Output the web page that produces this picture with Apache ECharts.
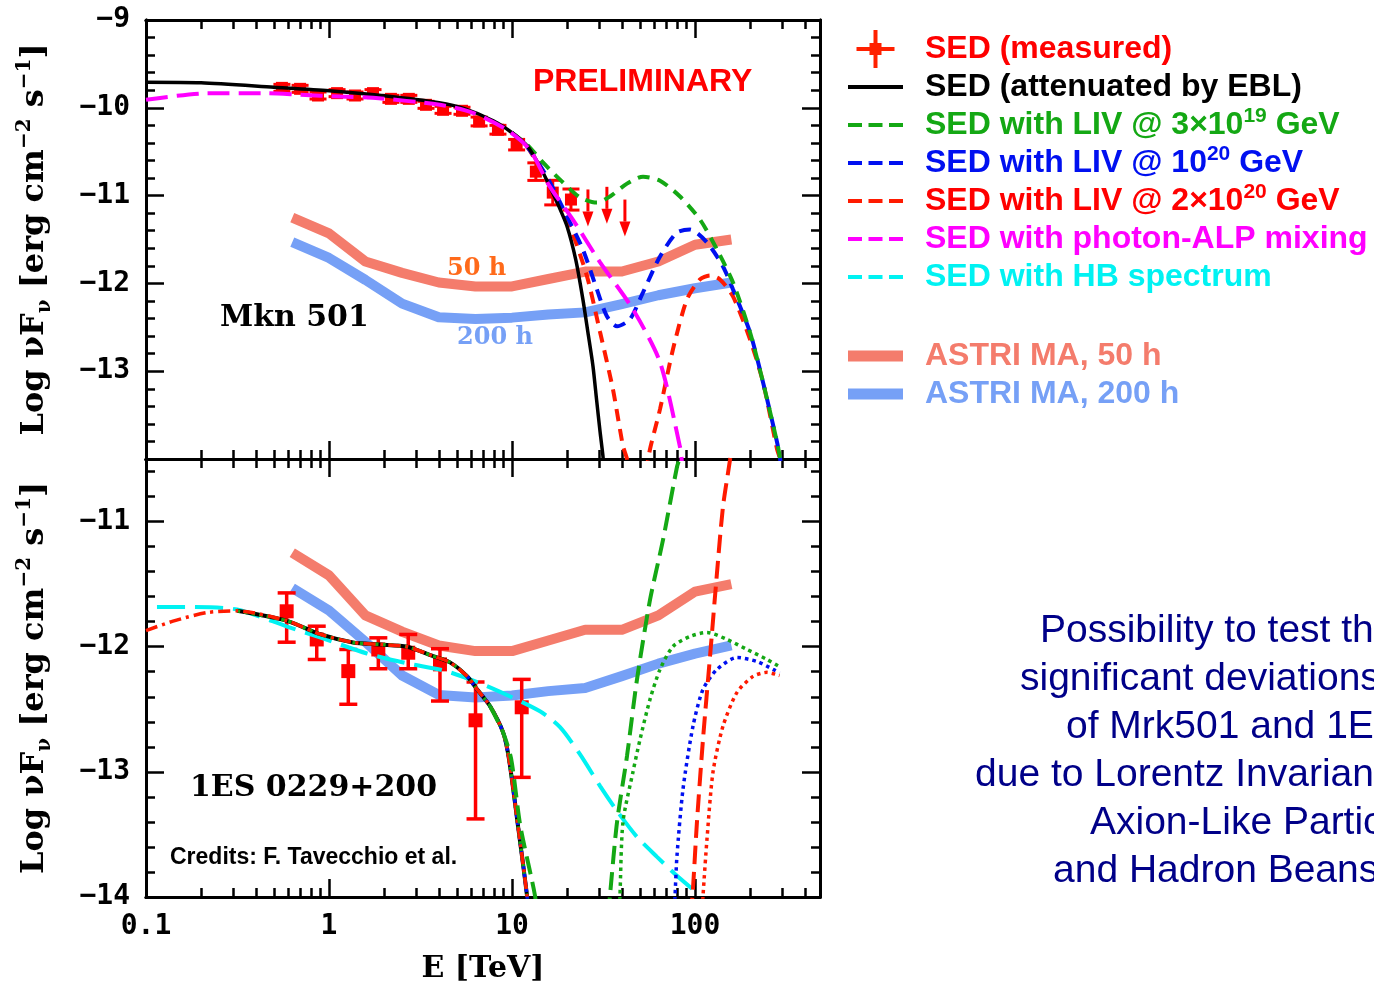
<!DOCTYPE html>
<html>
<head>
<meta charset="utf-8">
<script src="https://cdn.jsdelivr.net/npm/echarts@6/dist/echarts.min.js"></script>
<style>html,body{margin:0;padding:0;background:#fff}#main{width:1374px;height:996px}</style>
</head>
<body>
<div id="main"></div>
<script>
// E in TeV, y = log10(nuFnu) [erg cm-2 s-1]
const xMaxE = 482;

// ---- Mkn 501 (top) ----
const mknPoints = [[0.553,-9.773],[0.695,-9.784],[0.871,-9.86],[1.107,-9.833],[1.387,-9.86],[1.74,-9.833],[2.18,-9.898],[2.73,-9.898],[3.39,-9.966],[4.2,-10.023],[5.33,-10.034],[6.61,-10.156],[8.38,-10.25],[10.6,-10.42],[13.5,-10.727],[16.7,-10.966],[21.0,-11.045]];
const mknErr = [0.04,0.04,0.04,0.04,0.04,0.04,0.04,0.04,0.04,0.04,0.04,0.05,0.05,0.06,0.1,0.14,0.12];
const mknUpper = [[26.0,-10.93],[33.0,-10.90],[41.4,-11.045]];
const mknEbl = [[0.1,-9.71],[0.2,-9.716],[0.5,-9.767],[1,-9.807],[2,-9.864],[4,-9.943],[5.5,-10.01],[7.9,-10.148],[10,-10.284],[12.2,-10.443],[14.3,-10.68],[16.1,-10.898],[18,-11.12],[20,-11.352],[22.3,-11.73],[24.4,-12.182],[26,-12.56],[27.7,-12.943],[29,-13.33],[30.3,-13.693],[31.4,-13.966],[32,-14.2]];
const mknLiv3e19 = [[10,-10.284],[12.1,-10.42],[14.8,-10.625],[18.3,-10.818],[23.5,-11.02],[29.1,-11.08],[34.3,-11.01],[42.5,-10.864],[52,-10.784],[64.4,-10.83],[82.8,-11.01],[106.5,-11.273],[131.9,-11.614],[161.3,-11.989],[199.8,-12.557],[235.3,-13.125],[280.6,-13.807],[291.4,-13.99],[300,-14.2]];
const mknLiv1e20 = [[10,-10.284],[12.1,-10.443],[15.5,-10.784],[20,-11.239],[24.4,-11.614],[29.1,-12.068],[33,-12.375],[37.5,-12.489],[44.1,-12.409],[52,-12.102],[64.4,-11.693],[79.7,-11.42],[93.9,-11.386],[116.3,-11.534],[142.2,-11.807],[161.3,-12.068],[199.8,-12.557],[235.3,-13.125],[280.6,-13.807],[291.4,-13.99],[300,-14.2]];
const mknLiv2e20 = [[10,-10.284],[12.1,-10.443],[16.1,-10.898],[20.7,-11.352],[25.7,-11.92],[30.3,-12.557],[35.6,-13.205],[40.4,-13.852],[42.5,-14.0],[43.5,-14.2],null,[54,-14.15],[56.8,-13.886],[64.4,-13.432],[75.8,-12.75],[90.4,-12.182],[106.5,-11.955],[120.8,-11.909],[136.9,-11.955],[161.3,-12.148],[199.8,-12.636],[235.3,-13.125],[280.6,-13.886],[291.4,-14.0],[300,-14.2]];
const mknAlp = [[0.1,-9.909],[0.215,-9.835],[0.458,-9.835],[0.695,-9.852],[1.15,-9.872],[1.74,-9.886],[4.03,-9.966],[6.12,-10.057],[9.36,-10.25],[12.5,-10.477],[16.1,-10.898],[21.5,-11.273],[30.3,-11.761],[45.8,-12.295],[64.4,-12.898],[82.8,-13.864],[84.5,-14.0],[86,-14.2]];

// ---- 1ES 0229+200 (bottom) ----
const esPoints = [[0.587,-11.717],[0.857,-11.942],[1.275,-12.195],[1.86,-12.022],[2.71,-12.048],[4.04,-12.141],[6.32,-12.588],[11.3,-12.484]];
const esLo = [-11.964,-12.102,-12.46,-12.176,-12.176,-12.434,-13.376,-13.044];
const esHi = [-11.57,-11.836,-12.022,-11.929,-11.902,-12.016,-12.282,-12.261];
const esIntrinsic = [[0.1,-11.871],[0.1405,-11.796],[0.2154,-11.727]];
const esEbl = [[0.3144,-11.713],[0.59,-11.793],[0.893,-11.9],[1.352,-11.966],[1.9,-11.982],[2.67,-12.0],[3.7,-12.075],[4.58,-12.125],[5.68,-12.235],[6.44,-12.34],[7.58,-12.474],[8.93,-12.683],[9.63,-12.898],[10.78,-13.43],[12.08,-13.99],[12.3,-14.15]];
const esLiv3e19Dash = [[7.58,-12.474],[8.93,-12.683],[9.9,-12.898],[11.1,-13.43],[13.36,-13.99],[13.6,-14.15],null,[33.6,-14.15],[34.3,-13.99],[37.5,-13.4],[42.5,-12.874],[48.2,-12.261],[56.8,-11.624],[66.9,-11.145],[79.7,-10.564],[82.8,-10.484],[86,-10.3]];
const esLiv2e20Dash = [[95,-14.15],[97.5,-13.934],[102.5,-13.4],[110.6,-12.739],[120.8,-12.078],[131.9,-11.408],[142.2,-10.882],[155.3,-10.508],[160,-10.35]];
const esLiv3e19Dot = [[38.5,-14.15],[38.9,-13.99],[40.4,-13.4],[45.8,-13.002],[50.1,-12.739],[56.8,-12.42],[64.4,-12.181],[75.8,-11.998],[93.9,-11.918],[116.3,-11.886],[149.6,-11.942],[192.4,-12.022],[247.5,-12.102],[290,-12.16]];
const esLiv1e20Dot = [[77,-14.15],[77.8,-13.99],[79.7,-13.671],[86,-13.137],[97.5,-12.635],[110.6,-12.341],[131.9,-12.181],[169.6,-12.086],[218.3,-12.118],[266.9,-12.181],[290,-12.21]];
const esLiv2e20Dot = [[109,-14.15],[110.6,-13.99],[116.3,-13.536],[125.4,-13.002],[142.2,-12.635],[169.6,-12.365],[207.5,-12.237],[247.5,-12.205],[290,-12.23]];
const esHb = [[0.1148,-11.683],[0.174,-11.683],[0.3144,-11.703],[0.59,-11.839],[0.893,-11.926],[1.613,-12.054],[2.67,-12.133],[4.41,-12.197],[7.58,-12.325],[14.22,-12.516],[18.3,-12.643],[23.5,-12.859],[30.3,-13.114],[37.5,-13.313],[48.2,-13.52],[62,-13.679],[79.7,-13.831],[96.3,-13.934]];

// ---- ASTRI sensitivity (same in both panels) ----
const astriE = [0.63,1.0,1.58,2.51,3.98,6.31,10,15.8,25.1,39.8,63.1,100,158];
const astri50 = [-11.25,-11.43,-11.75,-11.88,-11.99,-12.035,-12.035,-11.95,-11.865,-11.865,-11.75,-11.56,-11.5];
const astri200 = [-11.53,-11.71,-11.96,-12.23,-12.385,-12.405,-12.39,-12.355,-12.33,-12.235,-12.135,-12.055,-11.99];

// tick labels
const xTickE = [0.1, 1, 10, 100];
const yTopLabels = [-13, -12, -11, -10, -9];
const yBotLabels = [-14, -13, -12, -11];

const noteLines = ['Possibility to test the', 'significant deviations', 'of Mrk501 and 1ES 0229+200', 'due to Lorentz Invariance Violation,', 'Axion-Like Particles', 'and Hadron Beans'];
const noteX = [1040, 1020, 1066, 975, 1090, 1053];
const noteY = [631, 679, 727, 775, 823, 871];

// colours
const C = {red:'#ff0000', black:'#000000', green:'#14a814', blue:'#0010f0', red2:'#ff1a00', mag:'#ff00ff', cyan:'#00f2f2', salmon:'#f47c6c', sky:'#76a0f6'};

const lg = arr => arr.map(p => p === null ? ['-', '-'] : [Math.log10(p[0]), p[1]]);
const X_MIN = -1, X_MAX = Math.log10(xMaxE);
const xMajor = xTickE.map(e => Math.log10(e));
const xMinor = [];
for (let d = -1; d <= 2; d++) for (let k = 2; k <= 9; k++) { const v = d + Math.log10(k); if (v < X_MAX) xMinor.push(v); }

const plotFont = 'DejaVu Serif';
const sansFont = 'Liberation Sans';

function xAxisSet(gi, withLabels) {
  const mk = (pos, vals, len, extra) => Object.assign({
    type: 'value', gridIndex: gi, position: pos, min: X_MIN, max: X_MAX,
    splitLine: {show: false},
    axisLine: {show: true, onZero: false, lineStyle: {color: '#000', width: 3}},
    axisTick: {show: true, inside: true, length: len, customValues: vals, lineStyle: {color: '#000', width: 2.5}},
    axisLabel: {show: false}
  }, extra || {});
  const lab = withLabels ? {
    axisLabel: {show: true, customValues: xMajor, margin: 16, color: '#000', fontSize: 28, fontWeight: 'bold', fontFamily: 'DejaVu Sans Mono',
      formatter: v => v < -0.5 ? '0.1' : String(Math.round(Math.pow(10, v)))},
    name: 'E [TeV]', nameLocation: 'middle', nameGap: 57,
    nameTextStyle: {color: '#000', fontSize: 30, fontWeight: 'bold', fontFamily: plotFont}
  } : {};
  return [mk('bottom', xMajor, 18, lab), mk('bottom', xMinor, 9), mk('top', xMajor, 18), mk('top', xMinor, 9)];
}

const yName = 'Log \u03BDF{s|\u03BD} [erg cm{p|\u22122} s{p|\u22121}]';
function yAxisSet(gi, min, max, labels) {
  const major = [], minor = [];
  for (let i = 0; min + i * 0.2 <= max + 1e-9; i++) {
    const v = +(min + i * 0.2).toFixed(1);
    if (Number.isInteger(v)) major.push(v); else minor.push(v);
  }
  const mk = (pos, vals, len, extra) => Object.assign({
    type: 'value', gridIndex: gi, position: pos, min, max,
    splitLine: {show: false},
    axisLine: {show: true, onZero: false, lineStyle: {color: '#000', width: 3}},
    axisTick: {show: true, inside: true, length: len, customValues: vals, lineStyle: {color: '#000', width: 2.5}},
    axisLabel: {show: false}
  }, extra || {});
  const sup = {fontSize: 20, fontFamily: plotFont, fontWeight: 'bold', color: '#000'};
  const lab = {
    axisLabel: {show: true, customValues: labels, margin: 16, color: '#000', fontSize: 28, fontWeight: 'bold', fontFamily: 'DejaVu Sans Mono',
      formatter: v => '\u2212' + Math.abs(Math.round(v))},
    name: yName, nameLocation: 'middle', nameGap: 91,
    nameTextStyle: {color: '#000', fontSize: 32, fontWeight: 'bold', fontFamily: plotFont, lineHeight: 40,
      rich: {s: Object.assign({verticalAlign: 'bottom', lineHeight: 24}, sup), p: Object.assign({verticalAlign: 'top', lineHeight: 22}, sup)}}
  };
  return [mk('left', major, 18, lab), mk('left', minor, 9), mk('right', major, 18), mk('right', minor, 9)];
}

function curve(name, data, gi, color, width, dash, z) {
  return {
    type: 'line', name, xAxisIndex: gi * 4, yAxisIndex: gi * 4, data: lg(data),
    symbol: 'none', smooth: 0.25, clip: true, silent: true, z: z || 3,
    color, lineStyle: {color, width, type: dash || 'solid', cap: 'butt'}
  };
}
function band(name, vals, gi, color) {
  return {
    type: 'line', name, xAxisIndex: gi * 4, yAxisIndex: gi * 4,
    data: lg(astriE.map((e, i) => [e, vals[i]])),
    symbol: 'none', clip: true, silent: true, z: 1,
    color, lineStyle: {color, width: 10, cap: 'butt', join: 'round'}
  };
}

function pointRender(size, cap, lw) {
  return function (params, api) {
    const x = api.value(0);
    const p = api.coord([x, api.value(1)]);
    const lo = api.coord([x, api.value(2)]);
    const hi = api.coord([x, api.value(3)]);
    const st = {stroke: C.red, lineWidth: lw};
    return {type: 'group', children: [
      {type: 'line', shape: {x1: p[0], y1: hi[1], x2: p[0], y2: lo[1]}, style: st},
      {type: 'line', shape: {x1: p[0] - cap / 2, y1: hi[1], x2: p[0] + cap / 2, y2: hi[1]}, style: st},
      {type: 'line', shape: {x1: p[0] - cap / 2, y1: lo[1], x2: p[0] + cap / 2, y2: lo[1]}, style: st},
      {type: 'rect', shape: {x: p[0] - size / 2, y: p[1] - size / 2, width: size, height: size}, style: {fill: C.red}}
    ]};
  };
}
function arrowRender(params, api) {
  const p = api.coord([api.value(0), api.value(1)]);
  const len = 37, head = 15, hw = 5.5;
  return {type: 'group', children: [
    {type: 'line', shape: {x1: p[0], y1: p[1], x2: p[0], y2: p[1] + len - head}, style: {stroke: C.red, lineWidth: 3}},
    {type: 'polygon', shape: {points: [[p[0] - hw, p[1] + len - head], [p[0] + hw, p[1] + len - head], [p[0], p[1] + len]]}, style: {fill: C.red}}
  ]};
}

const series = [
  // top panel
  band('ASTRI50', astri50, 0, C.salmon),
  band('ASTRI200', astri200, 0, C.sky),
  {type: 'custom', name: 'SED (measured)', xAxisIndex: 0, yAxisIndex: 0, z: 2, silent: true, clip: false,
    data: mknPoints.map((p, i) => [Math.log10(p[0]), p[1], p[1] - mknErr[i], p[1] + mknErr[i]]),
    encode: {x: 0, y: 1}, renderItem: pointRender(12, 17, 3)},
  {type: 'custom', name: 'SED (measured)', xAxisIndex: 0, yAxisIndex: 0, z: 2, silent: true, clip: false,
    data: lg(mknUpper), encode: {x: 0, y: 1}, renderItem: arrowRender},
  curve('LIV2e20', mknLiv2e20, 0, C.red2, 4, [12, 8]),
  curve('LIV1e20', mknLiv1e20, 0, C.blue, 4, [12, 8]),
  curve('LIV3e19', mknLiv3e19, 0, C.green, 4, [12, 8]),
  curve('SED (attenuated by EBL)', mknEbl, 0, C.black, 3.5),
  curve('ALP', mknAlp, 0, C.mag, 4, [22, 9]),
  // bottom panel
  {type: 'custom', name: 'SED (measured)', xAxisIndex: 4, yAxisIndex: 4, z: 2, silent: true, clip: false,
    data: esPoints.map((p, i) => [Math.log10(p[0]), p[1], esLo[i], esHi[i]]),
    encode: {x: 0, y: 1}, renderItem: pointRender(14, 18, 3.5)},
  band('ASTRI50', astri50, 1, C.salmon),
  band('ASTRI200', astri200, 1, C.sky),
  curve('HB', esHb, 1, C.cyan, 4, [28, 10]),
  curve('SED (attenuated by EBL)', esEbl, 1, C.black, 4),
  curve('LIV3e19', esEbl.concat([null], esLiv3e19Dot), 1, C.green, 3.5, [3.5, 4]),
  curve('LIV1e20', esEbl.slice(8).concat([null], esLiv1e20Dot), 1, C.blue, 3.5, [3.5, 4]),
  curve('LIV2e20', esLiv2e20Dot, 1, C.red2, 3.5, [3.5, 4]),
  curve('LIV2e20', esIntrinsic.concat(esEbl), 1, C.red2, 3.5, [12, 5, 3, 5]),
  curve('LIV3e19', esLiv3e19Dash, 1, C.green, 4, [18, 8]),
  curve('LIV2e20', esLiv2e20Dash, 1, C.red2, 4, [18, 8])
];

const legendText = {
  'SED (measured)': 'SED (measured)',
  'SED (attenuated by EBL)': 'SED (attenuated by EBL)',
  'LIV3e19': 'SED with LIV @ 3\u00D710{sup|19} GeV',
  'LIV1e20': 'SED with LIV @ 10{sup|20} GeV',
  'LIV2e20': 'SED with LIV @ 2\u00D710{sup|20} GeV',
  'ALP': 'SED with photon-ALP mixing',
  'HB': 'SED with HB spectrum',
  'ASTRI50': 'ASTRI MA, 50 h',
  'ASTRI200': 'ASTRI MA, 200 h'
};
const ICON_CROSS = 'path://M17,0h4v17h17v4h-17v17h-4v-17h-17v-4h17zM13,13h12v12h-12z';
const ICON_LINE = 'path://M0,0h55v4h-55z';
const ICON_DASH = 'path://M0,0h14v4h-14zM20.5,0h14v4h-14zM41,0h14v4h-14z';
const ICON_BAND = 'path://M0,0h55v11h-55z';
const legendItem = (name, color, icon, textColor) => ({
  name, icon, itemStyle: {color, borderWidth: 0},
  textStyle: {color: textColor || color, rich: {sup: {color: textColor || color, fontSize: 21, fontWeight: 'bold', fontFamily: sansFont, verticalAlign: 'top', lineHeight: 24}}}
});
const legendBase = {
  orient: 'vertical', left: 848, padding: 0, itemWidth: 55, itemHeight: 38, itemGap: 0,
  selectedMode: false, itemStyle: {borderWidth: 0},
  textStyle: {fontFamily: sansFont, fontWeight: 'bold', fontSize: 32, lineHeight: 38, padding: [0, 0, 0, 17]},
  formatter: n => legendText[n]
};

const texts = [
  {x: 533, y: 82, text: 'PRELIMINARY', font: 'bold 32px "Liberation Sans"', fill: C.red},
  {x: 220, y: 318, text: 'Mkn 501', font: 'bold 30px "DejaVu Serif"', fill: '#000'},
  {x: 447, y: 269, text: '50 h', font: 'bold 24px "DejaVu Serif"', fill: '#ff6a1a'},
  {x: 457, y: 338, text: '200 h', font: 'bold 24px "DejaVu Serif"', fill: C.sky},
  {x: 190, y: 788, text: '1ES 0229+200', font: 'bold 30px "DejaVu Serif"', fill: '#000'},
  {x: 170, y: 858, text: 'Credits: F. Tavecchio et al.', font: 'bold 23px "Liberation Sans"', fill: '#000'}
].concat(noteLines.map((t, i) => ({x: noteX[i], y: noteY[i], text: t, font: '39px "Liberation Sans"', fill: '#000088'})));

const chart = echarts.init(document.getElementById('main'));
chart.setOption({
  animation: false,
  backgroundColor: '#fff',
  grid: [
    {left: 146, top: 20, width: 674, height: 439, containLabel: false, outerBoundsMode: 'none'},
    {left: 146, top: 459, width: 674, height: 438, containLabel: false, outerBoundsMode: 'none'}
  ],
  xAxis: xAxisSet(0, false).concat(xAxisSet(1, true)),
  yAxis: yAxisSet(0, -14, -9, yTopLabels).concat(yAxisSet(1, -14, -10.5, yBotLabels)),
  legend: [
    Object.assign({top: 30, data: [
      legendItem('SED (measured)', '#ff2000', ICON_CROSS, C.red),
      legendItem('SED (attenuated by EBL)', '#000', ICON_LINE),
      legendItem('LIV3e19', C.green, ICON_DASH),
      legendItem('LIV1e20', C.blue, ICON_DASH),
      legendItem('LIV2e20', C.red2, ICON_DASH, C.red),
      legendItem('ALP', C.mag, ICON_DASH),
      legendItem('HB', C.cyan, ICON_DASH)
    ]}, legendBase),
    Object.assign({top: 337, data: [
      legendItem('ASTRI50', C.salmon, ICON_BAND),
      legendItem('ASTRI200', C.sky, ICON_BAND)
    ]}, legendBase)
  ],
  graphic: texts.map(t => ({type: 'text', x: t.x, y: t.y, silent: true,
    style: {text: t.text, font: t.font, fill: t.fill, align: 'left', verticalAlign: 'middle'}})),
  series
});
</script>
</body>
</html>
